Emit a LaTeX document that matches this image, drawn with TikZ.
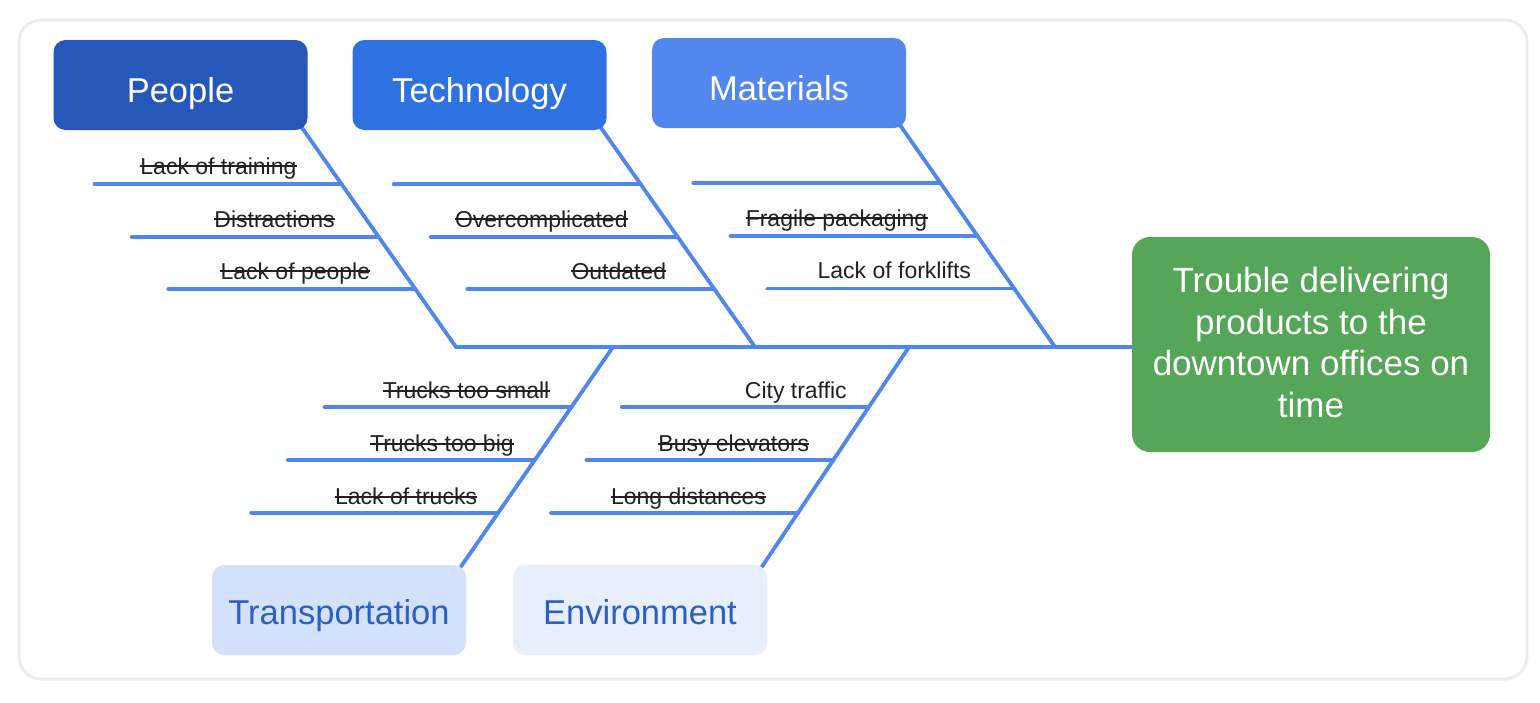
\documentclass[tikz,border=0pt]{standalone}
\usepackage{fontspec}
\setmainfont{Liberation Sans}
\usepackage{xcolor}
\usetikzlibrary{calc,backgrounds}

\definecolor{bonecol}{HTML}{4F87EC}
\definecolor{peoplecol}{HTML}{2558B8}
\definecolor{techcol}{HTML}{2E72E1}
\definecolor{matcol}{HTML}{5288EE}
\definecolor{transcol}{HTML}{D3E2FA}
\definecolor{envcol}{HTML}{E7EFFD}
\definecolor{softtext}{HTML}{2C5EC6}
\definecolor{effectcol}{HTML}{55A658}
\definecolor{framecol}{HTML}{ECECEC}
\definecolor{labeltext}{HTML}{202124}

\tikzset{
  cat/.style={rounded corners=12pt, minimum width=254pt, minimum height=90pt, inner sep=0pt,
    font=\fontsize{34.5}{41}\selectfont, text height=34pt, text depth=0pt},
  bone/.style={draw=bonecol, line width=3.8pt, line cap=round},
  cause/.style={font=\fontsize{23}{27}\selectfont, inner sep=0pt, text=labeltext},
  struck/.style={append after command={([yshift=8pt]\tikzlastnode.base west)
    edge[draw=labeltext, line width=1.5pt] ([yshift=8pt]\tikzlastnode.base east)}},
  kept/.style={}
}

\begin{document}
\begin{tikzpicture}[x=1pt, y=-1pt]
  \useasboundingbox (0,0) rectangle (1540,702);
  \draw[framecol, line width=3pt, rounded corners=22pt] (19,20) rectangle (1527,679);

  \node[cat, fill=peoplecol, text=white] (people) at (180.5,85) {People};
  \node[cat, fill=techcol, text=white] (tech) at (479.5,85) {Technology};
  \node[cat, fill=matcol, text=white] (mat) at (779,83) {Materials};
  \node[cat, fill=transcol, text=softtext, text height=28pt] (trans) at (339,610) {Transportation};
  \node[cat, fill=envcol, text=softtext, text height=28pt] (env) at (640,610) {Environment};
  \node[fill=effectcol, text=white, rounded corners=18pt, minimum width=358pt, minimum height=215pt,
    align=center, font=\fontsize{35}{41.5}\selectfont] (effect) at (1311,344.5)
    {Trouble delivering\\products to the\\downtown offices on\\time\rule[-4pt]{0pt}{4pt}};

  \coordinate (pj) at (456,347);
  \coordinate (tj) at (755,347);
  \coordinate (mj) at (1055,347);
  \coordinate (trj) at (613,347);
  \coordinate (ej) at (909,347);

  \begin{scope}[on background layer]
    \draw[bone] (pj) -- (pj -| effect.west);
    \foreach \n/\j in {people/pj, tech/tj, mat/mj} {
      \coordinate (\n s) at ($(\n.south east)+(-4,0)$);
      \draw[bone, shorten <=-8pt] (\n s) -- (\j);
      \foreach \f [count=\i] in {0.249, 0.493, 0.733} {
        \coordinate (\n\i) at ($(\n s)!\f!(\j)$);
        \coordinate (\n\i w) at ($(\n\i)+(-247,0)$);
        \draw[bone] (\n\i) -- (\n\i w);
      }
    }
    \foreach \n/\j in {trans/trj, env/ej} {
      \coordinate (\n s) at ($(\n.north east)+(-4,0)$);
      \draw[bone, shorten >=-8pt] (\j) -- (\n s);
      \foreach \f [count=\i] in {0.275, 0.518, 0.761} {
        \coordinate (\n\i) at ($(\j)!\f!(\n s)$);
        \coordinate (\n\i w) at ($(\n\i)+(-247,0)$);
        \draw[bone] (\n\i) -- (\n\i w);
      }
    }
  \end{scope}

  \foreach \c/\g/\s/\t in {people1/45/struck/Lack of training, people2/44/struck/Distractions,
      people3/45/struck/Lack of people, tech2/50/struck/Overcomplicated, tech3/48/struck/Outdated,
      mat2/50/struck/Fragile packaging, mat3/43/kept/Lack of forklifts}
    \node[cause, \s, anchor=base east] (\c t) at ($(\c)+(-\g,-10)$) {\t};
  \foreach \c/\g/\s/\t in {trans1/22/struck/Trucks too small, trans2/21/struck/Trucks too big,
      trans3/21/struck/Lack of trucks, env1/22/kept/City traffic, env2/24/struck/Busy elevators,
      env3/32/struck/Long distances}
    \node[cause, \s, anchor=base east] (\c t) at ($(\c)+(-\g,-8)$) {\t};
\end{tikzpicture}
\end{document}
